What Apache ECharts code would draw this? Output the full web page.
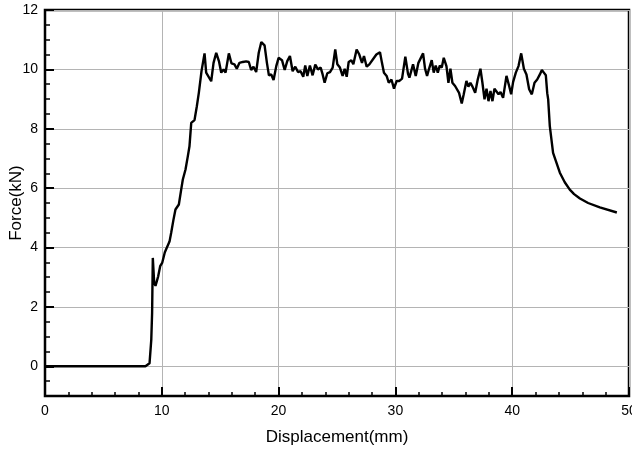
<!DOCTYPE html>
<html>
<head>
<meta charset="utf-8">
<script src="https://cdn.jsdelivr.net/npm/echarts@6/dist/echarts.min.js"></script>
<style>html,body{margin:0;padding:0;background:#fff;}#c{width:632px;height:450px;}</style>
</head>
<body>
<div id="c"></div>
<script>
const displacement = [0,8.6,8.95,9.1,9.17,9.23,9.35,9.46,9.69,9.86,10.03,10.26,10.43,10.66,10.8,11.0,11.17,11.46,11.66,11.8,12.03,12.23,12.37,12.52,12.8,13.0,13.17,13.4,13.66,13.8,13.97,14.23,14.43,14.66,14.89,15.09,15.29,15.46,15.74,15.97,16.22,16.42,16.65,16.93,17.22,17.45,17.65,17.85,18.08,18.3,18.52,18.8,19.0,19.17,19.37,19.57,19.8,20.0,20.29,20.52,20.74,20.97,21.2,21.43,21.66,21.88,22.11,22.28,22.46,22.68,22.91,23.14,23.37,23.6,23.77,23.94,24.17,24.4,24.63,24.85,25.03,25.25,25.48,25.66,25.83,26.0,26.23,26.4,26.68,26.91,27.14,27.31,27.54,27.77,28.08,28.37,28.68,28.85,29.02,29.25,29.43,29.66,29.88,30.11,30.34,30.57,30.85,31.08,31.2,31.51,31.74,31.97,32.14,32.37,32.54,32.71,32.88,33.11,33.28,33.45,33.63,33.8,33.97,34.14,34.37,34.54,34.71,34.88,35.11,35.28,35.45,35.68,35.85,36.08,36.25,36.42,36.6,36.83,37.05,37.28,37.45,37.63,37.8,37.97,38.14,38.31,38.48,38.65,38.83,39.0,39.22,39.51,39.74,39.91,40.08,40.31,40.54,40.77,41.0,41.22,41.45,41.68,41.91,42.14,42.37,42.54,42.71,42.88,43.0,43.08,43.22,43.5,43.75,44.08,44.5,44.93,45.3,45.8,46.5,47.5,48.96];
const force = [0,0,0.1,0.9,1.8,3.65,2.8,2.71,3.03,3.37,3.48,3.84,3.9,4.2,4.49,4.94,5.28,5.45,5.95,6.29,6.63,7.08,7.41,8.2,8.29,8.76,9.21,9.94,10.54,9.89,9.94,9.6,10.22,10.56,10.28,9.89,10.0,9.89,10.54,10.2,10.17,10.02,10.22,10.25,10.27,10.25,9.98,10.09,9.91,10.56,10.92,10.81,10.22,9.8,9.83,9.64,10.11,10.39,10.31,9.98,10.28,10.45,9.94,10.09,9.91,9.94,9.75,10.13,9.78,10.13,9.8,10.16,10.0,10.06,9.83,9.55,9.87,9.91,10.06,10.67,10.17,10.06,9.78,10.02,9.75,10.25,10.31,10.17,10.67,10.5,10.22,10.45,10.09,10.17,10.34,10.5,10.58,10.22,9.89,9.78,9.55,9.66,9.35,9.61,9.61,9.69,10.43,9.85,9.72,10.17,9.78,10.22,10.17,10.54,10.02,9.78,10.02,10.31,9.89,10.13,9.89,10.13,10.06,10.39,10.11,9.55,10.02,9.55,9.44,9.42,9.21,8.85,9.16,9.61,9.42,9.55,9.42,9.21,9.66,10.02,9.55,8.99,9.35,8.93,9.27,8.93,9.35,9.33,9.16,9.24,9.04,9.78,9.44,9.16,9.58,9.89,10.11,10.54,10.02,9.83,9.33,9.16,9.55,9.66,9.83,9.98,9.89,9.8,9.2,8.99,8.09,7.19,6.9,6.52,6.2,5.95,5.8,5.65,5.5,5.35,5.18];
const yMajorTicks = [0,2,4,6,8,10,12];
const yMinorTicks = [-0.5,0.5,1,1.5,2.5,3,3.5,4.5,5,5.5,6.5,7,7.5,8.5,9,9.5,10.5,11,11.5];
const xName = 'Displacement(mm)';
const yName = 'Force(kN)';

const font = 'Liberation Sans, Arial, Helvetica, sans-serif';
const chart = echarts.init(document.getElementById('c'), null, {renderer: 'canvas'});
chart.setOption({
  animation: false,
  backgroundColor: '#fff',
  grid: {left: 45, right: 3, top: 10, bottom: 54, show: true, borderColor: '#000', borderWidth: 2.5, backgroundColor: 'transparent', containLabel: false, outerBoundsMode: 'none'},
  xAxis: {
    type: 'value', min: 0, max: 50, interval: 10,
    name: xName, nameLocation: 'middle', nameGap: 33, nameMoveOverlap: false,
    nameTextStyle: {fontFamily: font, fontSize: 17, color: '#000'},
    axisLine: {onZero: false, lineStyle: {color: '#000', width: 2}},
    axisTick: {inside: true, length: 9, lineStyle: {color: '#000', width: 2}},
    minorTick: {show: true, splitNumber: 5, length: 4, lineStyle: {color: '#000', width: 1.5}},
    axisLabel: {fontFamily: font, fontSize: 14, color: '#000', margin: 8},
    splitLine: {show: true, lineStyle: {color: '#b4b4b4', width: 1}}
  },
  yAxis: [{
    type: 'value', min: -1, max: 12, splitNumber: 6,
    name: yName, nameLocation: 'middle', nameGap: 20, nameRotate: 90, nameMoveOverlap: false,
    nameTextStyle: {fontFamily: font, fontSize: 17, color: '#000'},
    axisLine: {onZero: false, lineStyle: {color: '#000', width: 2}},
    axisTick: {inside: true, length: 9, customValues: yMajorTicks, lineStyle: {color: '#000', width: 2}},
    axisLabel: {fontFamily: font, fontSize: 14, color: '#000', margin: 7, customValues: yMajorTicks},
    splitLine: {show: true, lineStyle: {color: '#b4b4b4', width: 1}}
  }, {
    type: 'value', min: -1, max: 12, position: 'left', offset: 0,
    axisLine: {show: false},
    axisTick: {show: true, inside: true, length: 5, customValues: yMinorTicks, lineStyle: {color: '#000', width: 1.5}},
    axisLabel: {show: false},
    splitLine: {show: false}
  }],
  series: [{
    type: 'line', yAxisIndex: 0, showSymbol: false, symbol: 'none',
    lineStyle: {color: '#000', width: 2.4},
    data: displacement.map((d, i) => [d, force[i]])
  }]
});
</script>
</body>
</html>
